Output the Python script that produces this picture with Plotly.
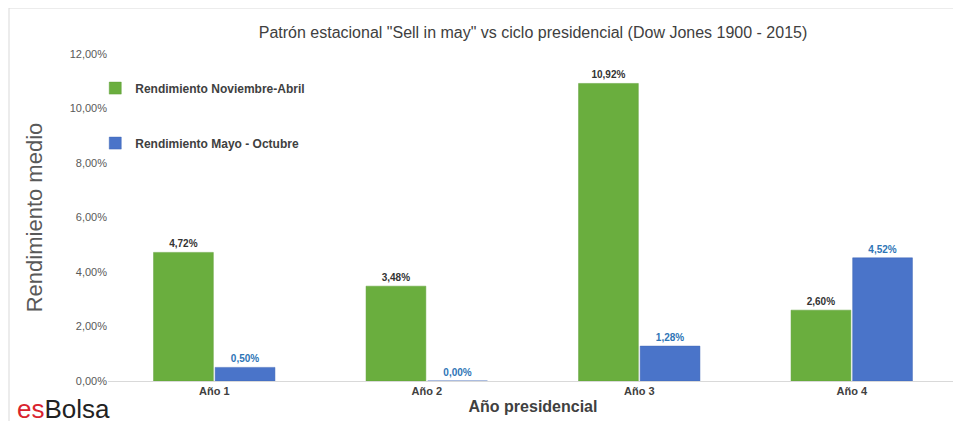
import plotly.graph_objects as go

anios = ["Año 1", "Año 2", "Año 3", "Año 4"]
nov_abril = [4.72, 3.48, 10.92, 2.60]
mayo_oct = [0.50, 0.00, 1.28, 4.52]
y_ticks = [0, 2, 4, 6, 8, 10, 12]
y_labels = ["0,00%", "2,00%", "4,00%", "6,00%", "8,00%", "10,00%", "12,00%"]


def fmt(v):
    return "<b>" + f"{v:.2f}%".replace(".", ",") + "</b>"


fig = go.Figure()
fig.add_trace(go.Bar(
    x=anios, y=nov_abril, name="<b>Rendimiento Noviembre-Abril</b>",
    marker=dict(color="#6aae3e", line=dict(color="#5e9e36", width=0.5)),
    text=[fmt(v) for v in nov_abril], textposition="outside",
    textfont=dict(color="#333333", size=10, family="Liberation Sans"),
    legendgroup="a", cliponaxis=False,
))
fig.add_trace(go.Bar(
    x=anios, y=mayo_oct, name="<b>Rendimiento Mayo - Octubre</b>",
    marker=dict(color="#4a74c9", line=dict(color="#3f66b6", width=0.5)),
    text=[fmt(v) for v in mayo_oct], textposition="outside",
    textfont=dict(color="#2e75b6", size=10, family="Liberation Sans"),
    legendgroup="b", cliponaxis=False,
))

fig.update_layout(
    width=961, height=421,
    margin=dict(l=100, r=11, t=46, b=48, autoexpand=False),
    paper_bgcolor="white", plot_bgcolor="white",
    font=dict(family="Liberation Sans", color="#595959"),
    title=dict(text='Patrón estacional "Sell in may" vs ciclo presidencial (Dow Jones 1900 - 2015)',
               x=0.5, xref="paper", y=0.955, font=dict(size=16, color="#404040")),
    barmode="group", bargap=0.42, bargroupgap=0.03,
    uniformtext=dict(minsize=10, mode="show"),
    legend=dict(x=-0.015, y=0.94, xanchor="left", yanchor="top",
                font=dict(size=12, color="#404040", family="Liberation Sans"),
                tracegroupgap=36, itemwidth=30, bgcolor="rgba(0,0,0,0)"),
    showlegend=True,
    shapes=[dict(type="rect", xref="paper", yref="paper",
                 x0=-99 / 850, x1=860 / 850, y0=-47 / 327, y1=373 / 327,
                 line=dict(color="#d9d9d9", width=1))],
    annotations=[
        dict(text="<span style='color:#d9232e'>es</span><span style='color:#222222'>Bolsa</span>",
             xref="paper", yref="paper", x=-93 / 850, y=-45 / 327,
             xanchor="left", yanchor="bottom", showarrow=False,
             font=dict(size=26, family="Liberation Sans")),
    ],
)
fig.update_xaxes(showline=True, linecolor="#d9d9d9", ticks="",
                 tickfont=dict(size=11, color="#404040"),
                 ticktext=["<b>" + a + "</b>" for a in anios], tickvals=anios,
                 title=dict(text="<b>Año presidencial</b>", font=dict(size=16, color="#404040"), standoff=4))
fig.update_yaxes(range=[0, 12], tickvals=y_ticks, ticktext=y_labels, showgrid=False,
                 zeroline=False, tickfont=dict(size=11, color="#595959"),
                 title=dict(text="Rendimiento medio", font=dict(size=22, color="#595959"), standoff=20))

fig.write_html("out.html")
